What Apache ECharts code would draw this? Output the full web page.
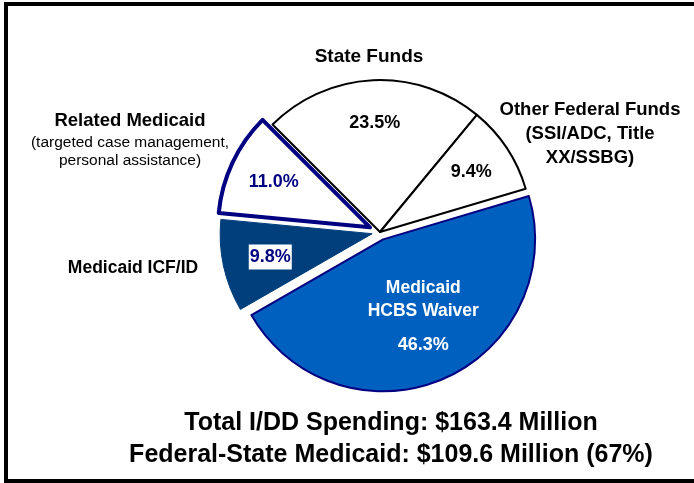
<!DOCTYPE html>
<html>
<head>
<meta charset="utf-8">
<script src="https://cdn.jsdelivr.net/npm/echarts@6/dist/echarts.min.js"></script>
<style>
html, body { margin: 0; padding: 0; background: #fff; }
#chart { width: 694px; height: 483px; }
</style>
</head>
<body>
<div id="chart"></div>
<script>
// data
var categories = ['State Funds', 'Other Federal Funds', 'Medicaid HCBS Waiver', 'Medicaid ICF/ID', 'Related Medicaid'];
var shares = [23.5, 9.4, 46.3, 9.8, 11.0];
var exploded = [false, false, true, true, true];
var outerNames = ['State Funds', 'Other Federal Funds\n(SSI/ADC, Title\nXX/SSBG)', '', 'Medicaid ICF/ID',
    '{b|Related Medicaid}\n{n|(targeted case management,}\n{n|personal assistance)}'];
var titleLines = ['Total I/DD Spending: $163.4 Million', 'Federal-State Medicaid: $109.6 Million (67%)'];

var chart = echarts.init(document.getElementById('chart'));
var FONT = '"Liberation Sans", Arial, sans-serif';
var CENTER = [380, 232];
var R = 152;
var START = 135;

var sliceStyle = [
    {color: '#ffffff', borderColor: '#000000', borderWidth: 2},
    {color: '#ffffff', borderColor: '#000000', borderWidth: 2},
    {color: '#0060c0', borderColor: '#000080', borderWidth: 2},
    {color: '#003e7c', borderColor: '#003e7c', borderWidth: 1},
    {color: '#ffffff', borderColor: '#000080', borderWidth: 4}
];
var hidden = {color: 'transparent', borderWidth: 0};

// outside name label placement
var namePos = [
    {x: 369, y: 57, align: 'center', verticalAlign: 'middle'},
    {x: 590, y: 134, align: 'center', verticalAlign: 'middle'},
    {},
    {x: 133, y: 268, align: 'center', verticalAlign: 'middle'},
    {x: 130, y: 107, align: 'center', verticalAlign: 'top'}
];
var nameSize = [19, 18.5, 18, 17.5, 18.5];

function pct(i) {
    return shares[i].toFixed(1) + '%';
}

function pieData(styleFn, labelFn, useSelect) {
    return categories.map(function (name, i) {
        var st = styleFn(i);
        var d = {name: name, value: shares[i], selected: useSelect ? exploded[i] : false,
            itemStyle: st, select: {itemStyle: st}};
        if (labelFn) d.label = labelFn(i);
        return d;
    });
}

var base = {
    type: 'pie',
    center: CENTER,
    startAngle: START,
    clockwise: true,
    selectedMode: 'multiple',
    silent: true,
    animation: false,
    avoidLabelOverlap: false,
    emphasis: {disabled: true},
    labelLine: {show: false}
};

option = {
    animation: false,
    graphic: [
        {
            type: 'rect',
            shape: {x: 6, y: 4, width: 694, height: 477},
            style: {fill: 'none', stroke: '#000', lineWidth: 4}
        },
        {
            type: 'text',
            x: 391,
            y: 407,
            style: {
                text: titleLines.join('\n'),
                font: 'bold 25px ' + FONT,
                lineHeight: 32,
                fill: '#000',
                align: 'center',
                verticalAlign: 'top',
                textAlign: 'center',
                textVerticalAlign: 'top'
            }
        }
    ],
    series: [
        // slices, Related hidden here
        Object.assign({}, base, {
            radius: R,
            selectedOffset: 8,
            label: {show: false},
            data: pieData(function (i) { return i === 4 ? hidden : sliceStyle[i]; }, null, true)
        }),
        // Related slice, pulled further out
        Object.assign({}, base, {
            radius: R,
            selectedOffset: 11,
            label: {show: false},
            data: pieData(function (i) { return i === 4 ? sliceStyle[i] : hidden; }, null, true)
        }),
        // percent labels (wider ring so the labels sit at ~0.7 R)
        Object.assign({}, base, {
            radius: R * 1.4,
            selectedOffset: 8,
            z: 5,
            label: {
                show: true,
                position: 'inside',
                fontFamily: FONT,
                fontWeight: 'bold',
                fontSize: 18,
                color: '#000',
                formatter: function (p) { return pct(p.dataIndex); }
            },
            labelLayout: function (p) {
                if (p.dataIndex === 2) return {dx: -3, dy: -18};
                if (p.dataIndex === 3) return {dx: 5};
                return {};
            },
            data: pieData(function () { return hidden; }, function (i) {
                if (i === 2) {
                    return {
                        formatter: '{w|Medicaid}\n{w|HCBS Waiver}\n{wp|' + pct(i) + '}',
                        rich: {
                            w: {fontFamily: FONT, fontWeight: 'bold', fontSize: 17.5, color: '#fff', lineHeight: 23},
                            wp: {fontFamily: FONT, fontWeight: 'bold', fontSize: 18, color: '#fff', lineHeight: 45}
                        }
                    };
                }
                if (i === 3) return {color: '#000080', backgroundColor: '#fff', padding: [4, 1, 3, 1]};
                if (i === 4) return {color: '#000080'};
                return {};
            }, true)
        }),
        // outside category names
        Object.assign({}, base, {
            radius: R,
            selectedMode: false,
            z: 5,
            label: {
                show: true,
                position: 'outside',
                fontFamily: FONT,
                fontWeight: 'bold',
                color: '#000',
                lineHeight: 24,
                formatter: function (p) { return outerNames[p.dataIndex]; },
                rich: {
                    b: {fontFamily: FONT, fontWeight: 'bold', fontSize: 18.5, color: '#000', lineHeight: 27},
                    n: {fontFamily: FONT, fontWeight: 'normal', fontSize: 15.5, color: '#000', lineHeight: 18}
                }
            },
            labelLayout: function (p) { return namePos[p.dataIndex]; },
            data: pieData(function () { return hidden; }, function (i) {
                return {fontSize: nameSize[i]};
            }, false)
        })
    ]
};

chart.setOption(option);
</script>
</body>
</html>
